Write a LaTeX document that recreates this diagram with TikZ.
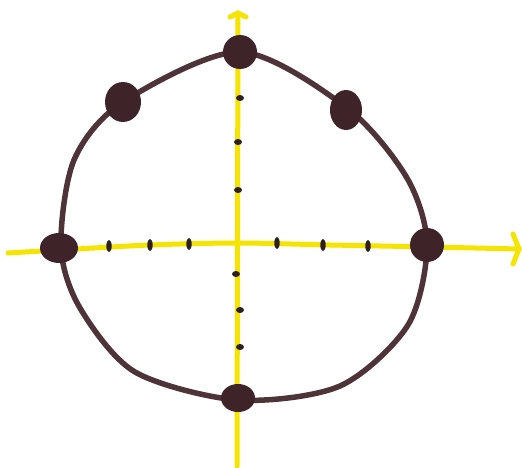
\documentclass[tikz,border=0pt]{standalone}
\usetikzlibrary{arrows.meta}
\definecolor{axisyellow}{HTML}{F4E400}
\definecolor{ringbrown}{HTML}{4E3438}
\definecolor{dotbrown}{HTML}{3E2429}
\definecolor{tickbrown}{HTML}{2E2022}
\tikzset{
  axisline/.style={draw=axisyellow, line width=5pt, line cap=round},
  ring/.style={draw=ringbrown, line width=5.5pt},
  bigdot/.style={fill=dotbrown, draw=none},
  htick/.style={fill=tickbrown, draw=none},
  vtick/.style={fill=tickbrown, draw=none}
}
\begin{document}
\begin{tikzpicture}[x=1pt,y=-1pt]
\useasboundingbox (0,0) rectangle (522,468);
\fill[white] (0,0) rectangle (522,468);
% axes
\coordinate (hl) at (8,253);
\coordinate (hr) at (519,249);
\coordinate (vt) at (238,13);
\coordinate (vb) at (237,466);
\draw[axisline] plot[smooth] coordinates {(hl) (60,250) (150,245) (238,243) (330,245) (430,247) (hr)};
\draw[axisline] (hr) -- ++(-6,-15);
\draw[axisline] (hr) -- ++(-6,15);
\draw[axisline] (vb) -- (vt);
\draw[axisline] (vt) -- ++(-8,4);
\draw[axisline] (vt) -- ++(8,4);
% ring
\draw[ring] plot[smooth cycle] coordinates {
 (240,52) (347,108) (407,178) (427,245)
 (408,325) (340,386) (238,400)
 (135,372) (80,308) (61,247) (74,160)
 (123,102)};
% ticks on horizontal axis
\foreach \x/\y in {109/246, 150/245, 189/244, 277/243, 323/245, 368/246}
  \fill[htick] (\x,\y) ellipse [x radius=2.7, y radius=6];
% ticks on vertical axis
\foreach \x/\y in {240/98, 238/142, 238/190, 236/274, 240/310, 240/347}
  \fill[vtick] (\x,\y) ellipse [x radius=4, y radius=3];
% dots
\fill[bigdot] (240,52) ellipse [x radius=17, y radius=17];
\fill[bigdot] (123,102) ellipse [x radius=18, y radius=20];
\fill[bigdot] (346,110) ellipse [x radius=16, y radius=20];
\fill[bigdot] (59,248) ellipse [x radius=19, y radius=15];
\fill[bigdot] (427,245) ellipse [x radius=17, y radius=17];
\fill[bigdot] (238,398) ellipse [x radius=17, y radius=14];
\end{tikzpicture}
\end{document}
